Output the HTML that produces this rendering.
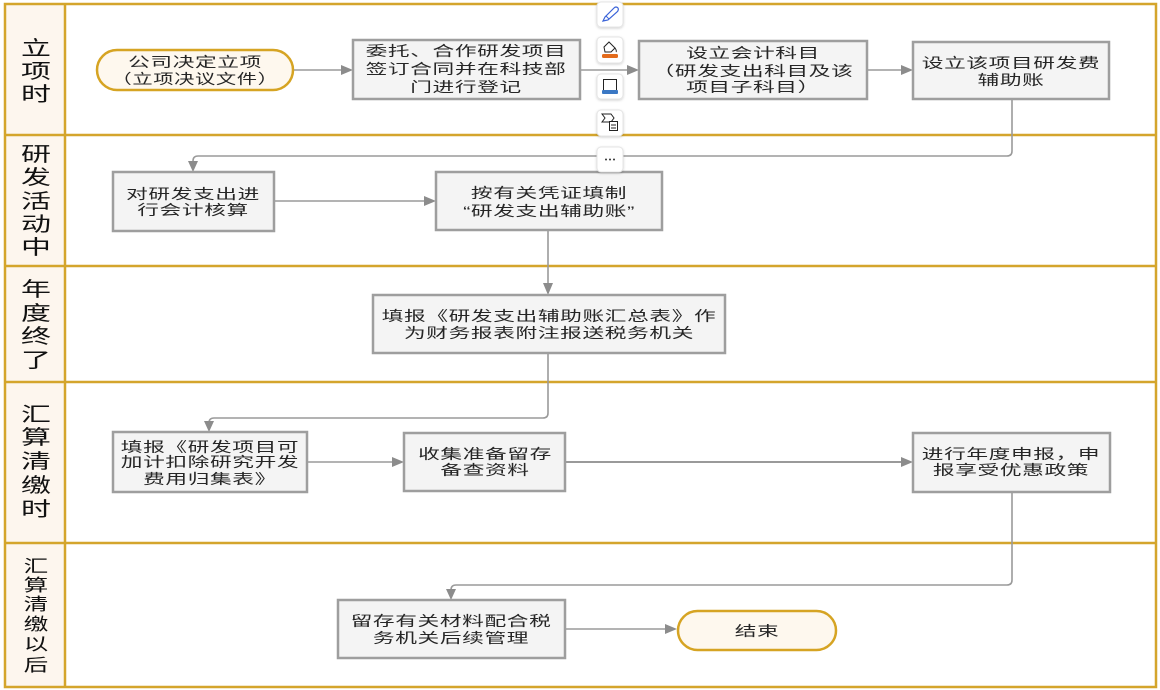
<!DOCTYPE html>
<html>
<head>
<meta charset="utf-8">
<style>
html,body{margin:0;padding:0;background:#fff;}
svg{display:block;}
text{font-family:"Liberation Sans","Noto Sans CJK SC",sans-serif;}
.t{font-size:14px;fill:#262626;letter-spacing:0.4px;}
.l{font-size:20px;fill:#111;}
.l5{font-size:17px;fill:#111;}
.box{fill:#f4f4f4;stroke:#9e9e9e;stroke-width:2.5;}
.ov{fill:#fef8ee;stroke:#d6a423;stroke-width:2.5;}
.cn{fill:none;stroke:#9a9a9a;stroke-width:1.6;}
.ah{fill:#8c8c8c;}
.gl{stroke:#d4a52c;stroke-width:2.5;fill:none;}
.tb{fill:#fff;stroke:#e4e4e4;stroke-width:1;}
</style>
</head>
<body>
<svg width="1160" height="690" viewBox="0 0 1160 690" xmlns="http://www.w3.org/2000/svg">
<defs>
<filter id="sh" x="-30%" y="-30%" width="160%" height="160%">
<feDropShadow dx="0" dy="1" stdDeviation="1.2" flood-color="#000" flood-opacity="0.18"/>
</filter>
</defs>
<!-- swimlane frame -->
<rect x="5" y="4" width="60" height="683" fill="#fdf6ee"/>
<line class="gl" x1="5" y1="135" x2="1156" y2="135"/>
<line class="gl" x1="5" y1="266" x2="1156" y2="266"/>
<line class="gl" x1="5" y1="382" x2="1156" y2="382"/>
<line class="gl" x1="5" y1="543" x2="1156" y2="543"/>
<line class="gl" x1="65" y1="4" x2="65" y2="687"/>
<rect class="gl" x="5" y="4" width="1151" height="683"/>

<!-- lane labels -->
<g class="l" text-anchor="middle">
<text transform="translate(36,55) scale(1.5,1)">立</text>
<text transform="translate(36,78) scale(1.5,1)">项</text>
<text transform="translate(36,101) scale(1.5,1)">时</text>

<text transform="translate(36,161) scale(1.5,1)">研</text>
<text transform="translate(36,184) scale(1.5,1)">发</text>
<text transform="translate(36,208) scale(1.5,1)">活</text>
<text transform="translate(36,231) scale(1.5,1)">动</text>
<text transform="translate(36,254) scale(1.5,1)">中</text>

<text transform="translate(36,296) scale(1.5,1)">年</text>
<text transform="translate(36,320) scale(1.5,1)">度</text>
<text transform="translate(36,343) scale(1.5,1)">终</text>
<text transform="translate(36,367) scale(1.5,1)">了</text>

<text transform="translate(36,421) scale(1.5,1)">汇</text>
<text transform="translate(36,444) scale(1.5,1)">算</text>
<text transform="translate(36,468) scale(1.5,1)">清</text>
<text transform="translate(36,492) scale(1.5,1)">缴</text>
<text transform="translate(36,516) scale(1.5,1)">时</text>
</g>
<g class="l5" text-anchor="middle">
<text transform="translate(36,572) scale(1.45,1)">汇</text>
<text transform="translate(36,591) scale(1.45,1)">算</text>
<text transform="translate(36,610) scale(1.45,1)">清</text>
<text transform="translate(36,630) scale(1.45,1)">缴</text>
<text transform="translate(36,650) scale(1.45,1)">以</text>
<text transform="translate(36,671) scale(1.45,1)">后</text>
</g>

<!-- connectors -->
<line class="cn" x1="293" y1="70" x2="343" y2="70"/>
<polygon class="ah" points="353,70 341,65 341,75"/>
<line class="cn" x1="580" y1="70" x2="629" y2="70"/>
<polygon class="ah" points="639,70 627,65 627,75"/>
<line class="cn" x1="867" y1="70" x2="903" y2="70"/>
<polygon class="ah" points="913,70 901,65 901,75"/>

<path class="cn" d="M1012 99 V151 Q1012 156 1007 156 H198 Q193 156 193 161 V163"/>
<polygon class="ah" points="193,172 188,161 198,161"/>

<line class="cn" x1="274" y1="201" x2="426" y2="201"/>
<polygon class="ah" points="436,201 424,196 424,206"/>

<line class="cn" x1="548" y1="230" x2="548" y2="285"/>
<polygon class="ah" points="548,295 543,283 553,283"/>

<path class="cn" d="M548 353 V413 Q548 418 543 418 H214 Q209 418 209 423 V423"/>
<polygon class="ah" points="209,432 204,421 214,421"/>

<line class="cn" x1="307" y1="462" x2="394" y2="462"/>
<polygon class="ah" points="404,462 392,457 392,467"/>

<line class="cn" x1="565" y1="462" x2="903" y2="462" style="stroke-width:2"/>
<polygon class="ah" points="913,462 901,457 901,467"/>

<path class="cn" d="M1012 492 V580 Q1012 585 1007 585 H456 Q451 585 451 590 V591"/>
<polygon class="ah" points="451,600 446,589 456,589"/>

<line class="cn" x1="565" y1="629" x2="666" y2="629"/>
<polygon class="ah" points="677,629 665,624 665,634"/>

<!-- nodes -->
<rect class="ov" x="97" y="50" width="196" height="40" rx="20" ry="20"/>
<rect class="box" x="353" y="40" width="227" height="59"/>
<rect class="box" x="639" y="41" width="228" height="58"/>
<rect class="box" x="913" y="42" width="196" height="57"/>
<rect class="box" x="113" y="172" width="161" height="59"/>
<rect class="box" x="436" y="172" width="226" height="58"/>
<rect class="box" x="373" y="295" width="352" height="58"/>
<rect class="box" x="113" y="432" width="194" height="60"/>
<rect class="box" x="404" y="433" width="161" height="58"/>
<rect class="box" x="913" y="433" width="197" height="59"/>
<rect class="box" x="338" y="600" width="227" height="58"/>
<rect class="ov" x="678" y="611" width="158" height="39" rx="19.5" ry="19.5"/>

<!-- node text -->
<g class="t" text-anchor="middle">
<text transform="translate(195,67) scale(1.55,1)">公司决定立项</text>
<text transform="translate(195,84) scale(1.45,1)">（立项决议文件）</text>

<text transform="translate(466,56) scale(1.55,1)">委托、合作研发项目</text>
<text transform="translate(466,74) scale(1.55,1)">签订合同并在科技部</text>
<text transform="translate(466,92) scale(1.55,1)">门进行登记</text>

<text transform="translate(753,58) scale(1.55,1)">设立会计科目</text>
<text transform="translate(753,76) scale(1.55,1)">（研发支出科目及该</text>
<text transform="translate(753,92) scale(1.55,1)">项目子科目）</text>

<text transform="translate(1011,68) scale(1.55,1)">设立该项目研发费</text>
<text transform="translate(1011,85) scale(1.55,1)">辅助账</text>

<text transform="translate(193,199) scale(1.55,1)">对研发支出进</text>
<text transform="translate(193,215) scale(1.55,1)">行会计核算</text>

<text transform="translate(549,198) scale(1.55,1)">按有关凭证填制</text>
<text transform="translate(549,216) scale(1.55,1)">“研发支出辅助账”</text>

<text transform="translate(549,321) scale(1.55,1)">填报《研发支出辅助账汇总表》作</text>
<text transform="translate(549,338) scale(1.55,1)">为财务报表附注报送税务机关</text>

<text transform="translate(210,452) scale(1.55,1)">填报《研发项目可</text>
<text transform="translate(210,467) scale(1.55,1)">加计扣除研究开发</text>
<text transform="translate(210,484) scale(1.55,1)">费用归集表》</text>

<text transform="translate(485,459) scale(1.55,1)">收集准备留存</text>
<text transform="translate(485,475) scale(1.55,1)">备查资料</text>

<text transform="translate(1011,459) scale(1.55,1)">进行年度申报，申</text>
<text transform="translate(1011,475) scale(1.55,1)">报享受优惠政策</text>

<text transform="translate(451,626) scale(1.55,1)">留存有关材料配合税</text>
<text transform="translate(451,643) scale(1.55,1)">务机关后续管理</text>

<text transform="translate(757,636) scale(1.55,1)">结束</text>
</g>

<!-- floating toolbar -->
<g filter="url(#sh)">
<rect class="tb" x="597" y="2" width="26" height="25" rx="4"/>
<rect class="tb" x="597" y="37" width="26" height="26" rx="4"/>
<rect class="tb" x="597" y="74" width="26" height="25" rx="4"/>
<rect class="tb" x="597" y="110" width="26" height="26" rx="4"/>
<rect class="tb" x="597" y="147" width="26" height="25" rx="4"/>
</g>
<!-- brush -->
<path d="M603 21 L605 17 L614 8 Q616 6 618 8 Q619 10 617 12 L608 20 Z" fill="none" stroke="#3a63d8" stroke-width="1.2"/>
<line x1="606" y1="16" x2="609" y2="19" stroke="#3a63d8" stroke-width="1"/>
<!-- bucket -->
<path d="M604 47 L609 42 L615 48 L611 52 L605 52 Z" fill="none" stroke="#222" stroke-width="1"/>
<path d="M615 48 Q617 51 616 52" fill="none" stroke="#222" stroke-width="1"/>
<rect x="602" y="54" width="16" height="4" rx="1.5" fill="#e36b1c"/>
<!-- rectangle -->
<rect x="603.5" y="79.5" width="13" height="11" fill="none" stroke="#222" stroke-width="1"/>
<rect x="602" y="90" width="16" height="4" rx="1" fill="#3b78c4"/>
<!-- tag -->
<path d="M602 114 H611 L614 118 L611 122 H602 L605 118 Z" fill="none" stroke="#222" stroke-width="1"/>
<rect x="609.5" y="121.5" width="8" height="9" fill="#fff" stroke="#222" stroke-width="1"/>
<line x1="611" y1="125" x2="616" y2="125" stroke="#222" stroke-width="1"/>
<line x1="611" y1="128" x2="616" y2="128" stroke="#222" stroke-width="1"/>
<!-- dots -->
<circle cx="606" cy="159.5" r="1" fill="#333"/>
<circle cx="610" cy="159.5" r="1" fill="#333"/>
<circle cx="614" cy="159.5" r="1" fill="#333"/>
</svg>
</body>
</html>
